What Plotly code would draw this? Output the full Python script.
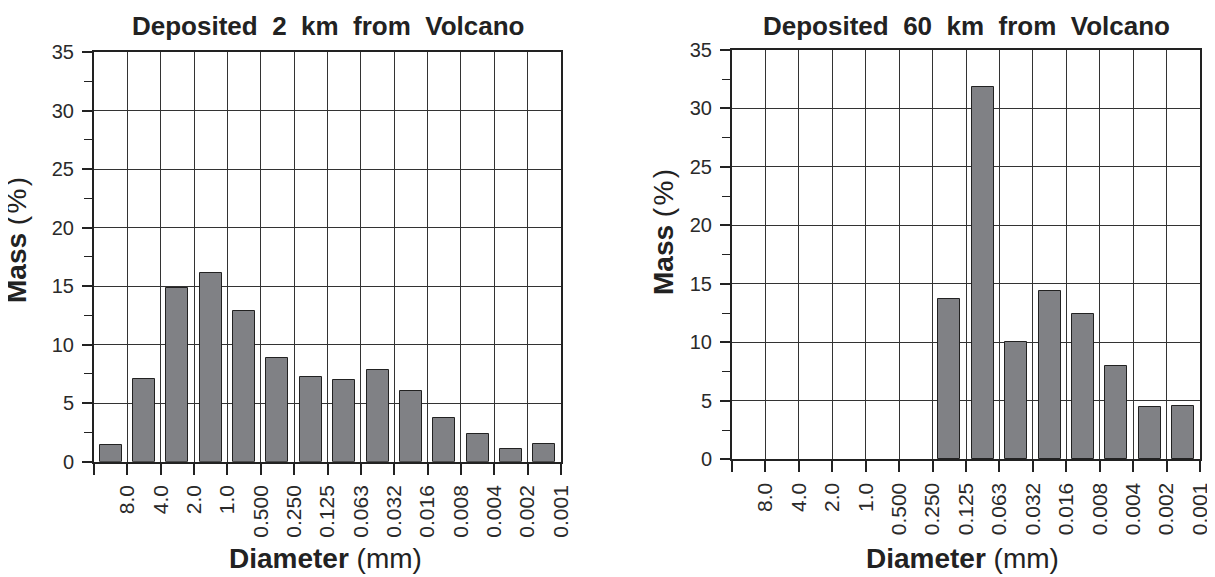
import plotly.graph_objects as go

# ---- data ----
bin_index = list(range(14))
tick_labels = ["", "8.0", "4.0", "2.0", "1.0", "0.500", "0.250", "0.125",
               "0.063", "0.032", "0.016", "0.008", "0.004", "0.002", "0.001"]
mass_2km = [1.4, 7.1, 14.8, 16.1, 12.9, 8.9, 7.2, 7.0, 7.8, 6.0, 3.7, 2.4, 1.1, 1.5]
mass_60km = [0, 0, 0, 0, 0, 0, 13.7, 31.8, 10.0, 14.4, 12.4, 8.0, 4.5, 4.6]
titles = ["Deposited 2 km from Volcano", "Deposited 60 km from Volcano"]
y_ticks = [0, 5, 10, 15, 20, 25, 30, 35]

W, H = 1215, 577
FONT = "Liberation Sans, Arial, sans-serif"
DARK = "#222222"
BAR = "#808185"
SP = "\u00a0\u00a0"

fig = go.Figure()
bin_centers = [i + 0.5 for i in bin_index]
for vals, xa, ya in [(mass_2km, "x", "y"), (mass_60km, "x2", "y2")]:
    fig.add_trace(go.Bar(x=bin_centers, y=vals, width=0.66,
                         marker=dict(color=BAR,
                                     line=dict(color=DARK,
                                               width=[1 if v > 0 else 0 for v in vals])),
                         xaxis=xa, yaxis=ya, showlegend=False, hoverinfo="y"))

def xax(domain, anchor):
    return dict(domain=domain, anchor=anchor, range=[0, 14], automargin=False,
                tickmode="array", tickvals=list(range(15)), ticktext=tick_labels,
                tickangle=-90, ticks="outside", ticklen=11, tickwidth=1.5, tickcolor=DARK,
                ticklabelstandoff=2,
                showgrid=True, gridcolor="#333333", gridwidth=1,
                showline=True, linecolor=DARK, linewidth=2, mirror=True,
                zeroline=False, tickfont=dict(family=FONT, size=21, color="#2a2a2a"),
                fixedrange=True)

def yax(domain, anchor):
    return dict(domain=domain, anchor=anchor, range=[0, 35], automargin=False,
                tickmode="array", tickvals=y_ticks,
                ticks="outside", ticklen=10, tickwidth=1.5, tickcolor=DARK,
                ticklabelstandoff=4,
                minor=dict(dtick=2.5, ticks="outside", ticklen=8, tickwidth=1.2,
                           tickcolor=DARK, showgrid=False),
                showgrid=True, gridcolor="#333333", gridwidth=1,
                showline=True, linecolor=DARK, linewidth=2, mirror=True,
                zeroline=False, tickfont=dict(family=FONT, size=20, color="#2a2a2a"),
                fixedrange=True)

# page has an 8px body margin: target screenshot pixel p -> figure pixel p - 8
RS = 7  # right panel nudged left so its last tick label stays in view
lx = [86 / W, 553 / W]
rx = [(731 - RS) / W, (1199 - RS) / W]
ly = [(H - 453.7) / H, (H - 44) / H]
ry = [(H - 451.3) / H, (H - 42) / H]

fig.update_layout(
    width=W, height=H,
    margin=dict(l=0, r=0, t=0, b=0, autoexpand=False),
    paper_bgcolor="white", plot_bgcolor="white",
    bargap=0,
    xaxis=xax(lx, "y"), yaxis=yax(ly, "x"),
    xaxis2=xax(rx, "y2"), yaxis2=yax(ry, "x2"),
    font=dict(family=FONT, color=DARK),
)

annots = [
    dict(text="<b>" + titles[0].replace(" ", SP) + "</b>", x=320, y=18.5, size=26, angle=0),
    dict(text="<b>" + titles[1].replace(" ", SP) + "</b>", x=965 - RS, y=18.5, size=26, angle=0),
    dict(text="<b>Diameter</b> (mm)", x=317.5, y=550.5, size=28, angle=0),
    dict(text="<b>Diameter</b> (mm)", x=961 - RS, y=550.5, size=28, angle=0),
    dict(text="<b>Mass</b> (\u200a%\u200a)", x=9, y=232, size=28, angle=-90),
    dict(text="<b>Mass</b> (\u200a%\u200a)", x=662 - RS, y=224, size=28, angle=-90),
]
for a in annots:
    fig.add_annotation(text=a["text"], x=a["x"] / W, y=1 - a["y"] / H,
                       xref="paper", yref="paper",
                       xanchor="center", yanchor="middle", showarrow=False,
                       textangle=a["angle"],
                       font=dict(family=FONT, size=a["size"], color=DARK))

fig.write_html("out.html")
